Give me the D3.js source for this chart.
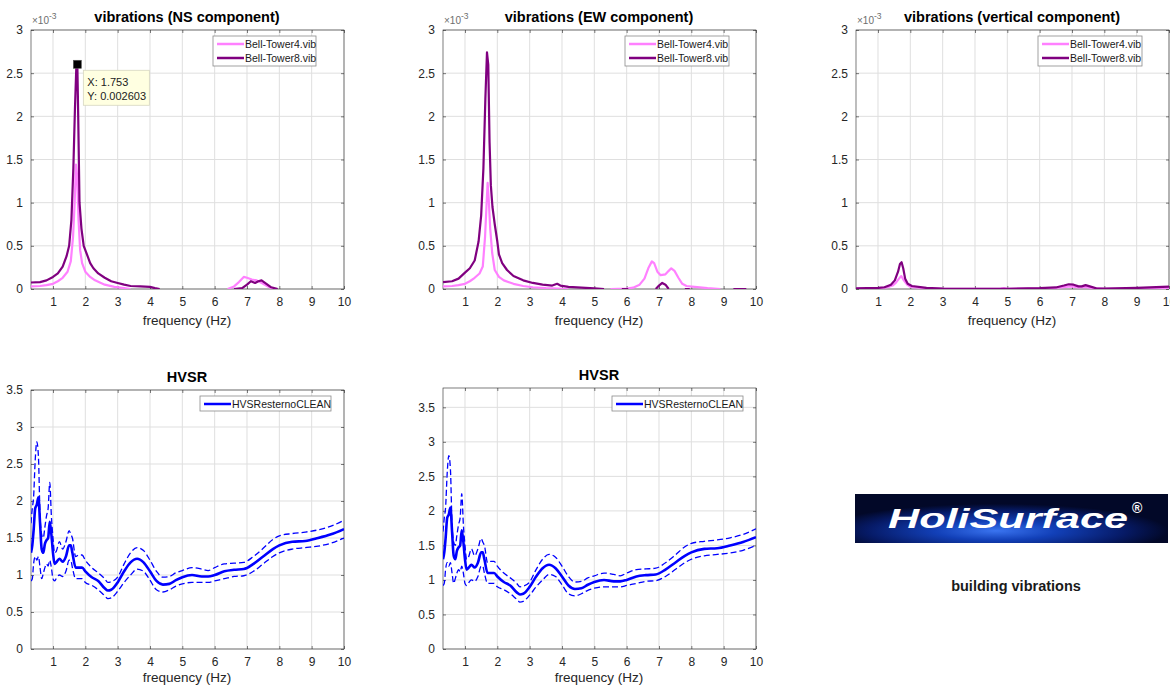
<!DOCTYPE html>
<html>
<head>
<meta charset="utf-8">
<title>building vibrations</title>
<script src="https://d3js.org/d3.v7.min.js"></script>
<style>
  body { margin: 0; background: #fff; }
  svg text { font-family: "Liberation Sans", Arial, sans-serif; }
  .tick text { fill: #262626; font-size: 12px; }
</style>
</head>
<body>
<script>
// spectra, amplitude in units of 1e-3, [frequency Hz, amplitude]; null = gap
var nsTower4 = [[0.32,0.03],[0.6,0.035],[0.8,0.045],[1.0,0.06],[1.15,0.09],[1.3,0.13],[1.45,0.2],[1.55,0.32],[1.62,0.6],[1.67,1.0],[1.71,1.44],[1.75,1.3],[1.79,0.8],[1.84,0.45],[1.9,0.3],[2.0,0.2],[2.15,0.14],[2.3,0.1],[2.6,0.05],[2.9,0.025],[3.2,0.01],[3.4,0.0],
  [3.5,null],[6.4,0.0],[6.6,0.03],[6.75,0.08],[6.9,0.14],[7.0,0.13],[7.15,0.11],[7.3,0.1],[7.5,0.06],[7.65,0.03],[7.8,0.0]];
var nsTower8 = [[0.32,0.075],[0.6,0.08],[0.8,0.1],[1.0,0.14],[1.15,0.18],[1.3,0.26],[1.42,0.38],[1.5,0.5],[1.57,0.8],[1.63,1.4],[1.68,2.1],[1.72,2.55],[1.753,2.603],[1.78,2.0],[1.82,1.0],[1.88,0.7],[1.95,0.5],[2.05,0.4],[2.15,0.3],[2.25,0.24],[2.4,0.18],[2.6,0.13],[2.8,0.09],[3.0,0.07],[3.2,0.05],[3.4,0.035],[3.7,0.03],[4.0,0.025],[4.15,0.01],[4.3,0.0],
  [4.4,null],[6.6,0.0],[6.85,0.01],[7.0,0.05],[7.12,0.09],[7.25,0.07],[7.35,0.09],[7.45,0.1],[7.6,0.06],[7.75,0.02],[7.95,0.0]];

var ewTower4 = [[0.32,0.03],[0.6,0.035],[0.8,0.045],[1.0,0.06],[1.15,0.09],[1.3,0.13],[1.45,0.18],[1.55,0.26],[1.62,0.6],[1.67,1.0],[1.7,1.23],[1.74,1.0],[1.78,0.7],[1.84,0.42],[1.92,0.22],[2.05,0.14],[2.2,0.1],[2.5,0.06],[2.8,0.035],[3.1,0.02],[3.5,0.01],[4.2,0.0],
  [4.6,null],[5.5,0.0],[6.0,0.005],[6.2,0.015],[6.4,0.05],[6.55,0.12],[6.68,0.25],[6.78,0.32],[6.85,0.3],[6.95,0.2],[7.05,0.16],[7.2,0.17],[7.3,0.21],[7.38,0.24],[7.48,0.21],[7.6,0.13],[7.72,0.06],[7.85,0.035],[8.1,0.025],[8.5,0.01],[8.9,0.0]];
var ewTower8 = [[0.32,0.08],[0.6,0.09],[0.8,0.12],[1.0,0.19],[1.15,0.24],[1.3,0.33],[1.42,0.55],[1.5,0.85],[1.57,1.4],[1.63,2.2],[1.68,2.74],[1.72,2.6],[1.76,1.7],[1.8,1.2],[1.85,0.95],[1.92,0.75],[2.0,0.55],[2.05,0.4],[2.15,0.3],[2.3,0.22],[2.5,0.15],[2.8,0.1],[3.1,0.07],[3.4,0.05],[3.7,0.04],[3.85,0.06],[3.95,0.04],[4.2,0.025],[4.6,0.015],[5.0,0.008],[5.3,0.0],
  [5.5,null],[5.85,0.0],[6.05,0.0],[6.1,null],[6.9,0.0],[7.0,0.04],[7.1,0.07],[7.2,0.05],[7.3,0.0],[7.4,null],[7.8,0.0],[7.95,0.0],[8.0,null],[9.3,0.0],[9.7,0.0]];

var vtTower4 = [[0.32,0.005],[1.0,0.008],[1.3,0.02],[1.45,0.04],[1.55,0.07],[1.65,0.12],[1.72,0.15],[1.8,0.1],[1.9,0.05],[2.0,0.025],[2.5,0.008],[3.0,0.003],[4.0,0.002],[4.8,0.004],[4.9,0.01],[5.0,0.003],[6.0,0.006],[6.5,0.012],[6.8,0.025],[7.0,0.03],[7.2,0.018],[7.4,0.025],[7.6,0.012],[8.0,0.003],[9.0,0.006],[10.0,0.012]];
var vtTower8 = [[0.32,0.008],[1.0,0.012],[1.2,0.02],[1.4,0.05],[1.52,0.1],[1.62,0.2],[1.68,0.29],[1.73,0.31],[1.78,0.24],[1.84,0.12],[1.92,0.06],[2.05,0.035],[2.5,0.012],[3.0,0.005],[4.0,0.003],[5.0,0.003],[6.0,0.01],[6.5,0.018],[6.75,0.04],[6.9,0.055],[7.05,0.05],[7.2,0.03],[7.3,0.03],[7.42,0.045],[7.55,0.03],[7.75,0.008],[8.0,0.004],[9.0,0.012],[10.0,0.028]];

// H/V spectral ratio, mean and +/- std
var hvFreq  = [0.32,0.36,0.4,0.45,0.5,0.55,0.6,0.65,0.7,0.75,0.8,0.85,0.9,0.95,1.0,1.05,1.1,1.2,1.3,1.4,1.5,1.55,1.6,1.7,1.8,1.9,2.0,2.2,2.4,2.6,2.7,2.8,3.0,3.2,3.4,3.6,3.8,4.0,4.2,4.4,4.6,4.8,5.0,5.3,5.6,5.8,6.0,6.3,6.6,6.9,7.2,7.5,7.8,8.0,8.4,8.8,9.2,9.6,10.0];
var hvMean  = [1.3,1.4,1.6,1.9,1.95,2.05,1.7,1.35,1.3,1.42,1.47,1.5,1.72,1.55,1.3,1.15,1.17,1.22,1.18,1.25,1.4,1.4,1.3,1.1,1.1,1.1,1.05,0.97,0.92,0.82,0.79,0.8,0.9,1.05,1.17,1.22,1.17,1.05,0.92,0.87,0.88,0.93,0.97,1.0,0.98,0.98,1.0,1.05,1.07,1.08,1.15,1.25,1.35,1.4,1.45,1.46,1.5,1.55,1.62];
var hvUpper = [1.7,1.9,2.05,2.55,2.8,2.6,1.8,1.55,1.5,1.65,1.8,1.9,2.25,1.8,1.5,1.3,1.32,1.45,1.35,1.45,1.6,1.55,1.5,1.25,1.27,1.27,1.2,1.1,1.03,0.95,0.9,0.91,0.97,1.15,1.3,1.37,1.33,1.2,1.05,0.97,0.98,1.03,1.06,1.1,1.08,1.06,1.1,1.15,1.16,1.17,1.25,1.36,1.48,1.53,1.56,1.58,1.61,1.66,1.74];
var hvLower = [0.92,0.95,1.15,1.25,1.2,1.25,1.1,0.95,1.02,1.1,1.15,1.12,1.2,1.1,0.95,0.92,0.95,1.0,0.98,1.05,1.2,1.2,1.1,0.95,0.95,0.95,0.9,0.86,0.8,0.72,0.68,0.69,0.78,0.9,1.0,1.08,1.05,0.93,0.8,0.77,0.8,0.85,0.88,0.9,0.9,0.9,0.92,0.95,0.98,0.99,1.05,1.15,1.25,1.3,1.35,1.37,1.39,1.43,1.5];

var xTicks = [1,2,3,4,5,6,7,8,9,10];
var vibTicks = [0,0.5,1,1.5,2,2.5,3];
var hvTicks = [0,0.5,1,1.5,2,2.5,3,3.5];
var vibNames = ["Bell-Tower4.vib", "Bell-Tower8.vib"];
var hvName = "HVSResternoCLEAN";
var tipX = 1.753, tipY = 2.603;

var colT4 = "#ff80ff", colT8 = "#800080", colHV = "#0000ff";
var axisCol = "#262626";

var svg = d3.select("body").append("svg")
    .attr("width", 1170).attr("height", 686);

function panel(p) {
    var x = d3.scaleLinear().domain([0.32, 10]).range([p.left, p.left + 313]);
    var y = d3.scaleLinear().domain(p.ydom).range([p.bottom, p.top]);
    var g = svg.append("g");
    var clipId = "clip" + p.id;
    svg.append("clipPath").attr("id", clipId).append("rect")
        .attr("x", p.left).attr("y", p.top).attr("width", 313).attr("height", p.bottom - p.top);

    // grid
    g.selectAll(".gx").data(xTicks).enter().append("line")
        .attr("x1", d => x(d)).attr("x2", d => x(d))
        .attr("y1", p.top).attr("y2", p.bottom)
        .attr("stroke", "#dfdfdf").attr("stroke-width", 1);
    g.selectAll(".gy").data(p.yticks).enter().append("line")
        .attr("y1", d => y(d)).attr("y2", d => y(d))
        .attr("x1", p.left).attr("x2", p.left + 313)
        .attr("stroke", "#dfdfdf").attr("stroke-width", 1);

    // axes
    var bottomAx = g.append("g").attr("transform", "translate(0," + p.bottom + ")")
        .call(d3.axisBottom(x).tickValues(xTicks).tickSize(-3).tickPadding(8).tickFormat(d3.format("d")));
    var topAx = g.append("g").attr("transform", "translate(0," + p.top + ")")
        .call(d3.axisTop(x).tickValues(xTicks).tickSize(-3).tickFormat(""));
    var leftAx = g.append("g").attr("transform", "translate(" + p.left + ",0)")
        .call(d3.axisLeft(y).tickValues(p.yticks).tickSize(-3).tickPadding(8).tickFormat(d => d));
    var rightAx = g.append("g").attr("transform", "translate(" + (p.left + 313) + ",0)")
        .call(d3.axisRight(y).tickValues(p.yticks).tickSize(-3).tickFormat(""));
    [bottomAx, topAx, leftAx, rightAx].forEach(function(a) {
        a.select(".domain").remove();
        a.selectAll(".tick line").attr("stroke", axisCol).attr("stroke-width", 0.6);
    });
    g.append("rect").attr("x", p.left).attr("y", p.top)
        .attr("width", 313).attr("height", p.bottom - p.top)
        .attr("fill", "none").attr("stroke", axisCol).attr("stroke-width", 0.6);

    // data lines
    var lines = svg.append("g").attr("clip-path", "url(#" + clipId + ")");
    p.series.forEach(function(s) {
        var line = d3.line()
            .defined(d => d[1] !== null)
            .x(d => x(d[0])).y(d => y(d[1]))
            .curve(s.curve || d3.curveLinear);
        lines.append("path").datum(s.data)
            .attr("d", line)
            .attr("fill", "none")
            .attr("stroke", s.color)
            .attr("stroke-width", s.width)
            .attr("stroke-dasharray", s.dash || null)
            .attr("stroke-linejoin", "round");
    });

    // titles
    svg.append("text").attr("x", p.left + 156).attr("y", p.top - 8)
        .attr("text-anchor", "middle").attr("font-size", 14.5).attr("font-weight", "bold")
        .text(p.title);
    svg.append("text").attr("x", p.left + 156).attr("y", Math.min(p.bottom + 36, 682))
        .attr("text-anchor", "middle").attr("font-size", 13.5).attr("fill", axisCol)
        .text("frequency (Hz)");

    if (p.exp) {
        var t = svg.append("text").attr("x", p.left + 1).attr("y", p.top - 6)
            .attr("font-size", 10).attr("fill", "#6e6e6e");
        t.append("tspan").text("\u00d710");
        t.append("tspan").attr("dy", -5).attr("font-size", 8.5).text("-3");
    }

    // legend
    var lg = svg.append("g");
    lg.append("rect").attr("x", p.legend.x).attr("y", p.legend.y)
        .attr("width", p.legend.w).attr("height", p.legend.h)
        .attr("fill", "#fff").attr("stroke", "#8a8a8a").attr("stroke-width", 0.8);
    p.legend.items.forEach(function(it, i) {
        var yy = p.legend.y + 8 + i * 14;
        lg.append("line").attr("x1", p.legend.x + 4).attr("x2", p.legend.x + 31)
            .attr("y1", yy).attr("y2", yy)
            .attr("stroke", it.color).attr("stroke-width", 2.5);
        lg.append("text").attr("x", p.legend.x + 32).attr("y", yy + 3.8)
            .attr("font-size", 10.5).attr("fill", "#1a1a1a").text(it.name);
    });
    return {x: x, y: y};
}

var legVib = [{name: vibNames[0], color: colT4}, {name: vibNames[1], color: colT8}];
var legHV = [{name: hvName, color: colHV}];

function hvSeries() {
    var mean = hvFreq.map((f, i) => [f, hvMean[i]]);
    var up = hvFreq.map((f, i) => [f, hvUpper[i]]);
    var lo = hvFreq.map((f, i) => [f, hvLower[i]]);
    return [
        {data: up, color: colHV, width: 1.3, dash: "6,3", curve: d3.curveMonotoneX},
        {data: lo, color: colHV, width: 1.3, dash: "6,3", curve: d3.curveMonotoneX},
        {data: mean, color: colHV, width: 2.6, curve: d3.curveMonotoneX}
    ];
}

var ns = panel({id: 1, left: 31, top: 30, bottom: 289, ydom: [0, 3], yticks: vibTicks, exp: true,
    title: "vibrations (NS component)",
    series: [{data: nsTower4, color: colT4, width: 2.2}, {data: nsTower8, color: colT8, width: 2.2}],
    legend: {x: 213, y: 36, w: 103, h: 30, items: legVib}});

panel({id: 2, left: 443, top: 30, bottom: 289, ydom: [0, 3], yticks: vibTicks, exp: true,
    title: "vibrations (EW component)",
    series: [{data: ewTower4, color: colT4, width: 2.2}, {data: ewTower8, color: colT8, width: 2.2}],
    legend: {x: 625, y: 36, w: 104, h: 30, items: legVib}});

panel({id: 3, left: 856, top: 30, bottom: 289, ydom: [0, 3], yticks: vibTicks, exp: true,
    title: "vibrations (vertical component)",
    series: [{data: vtTower4, color: colT4, width: 2.2}, {data: vtTower8, color: colT8, width: 2.2}],
    legend: {x: 1038, y: 36, w: 104, h: 30, items: legVib}});

panel({id: 4, left: 31, top: 390, bottom: 649, ydom: [0, 3.5], yticks: hvTicks,
    title: "HVSR", series: hvSeries(),
    legend: {x: 200, y: 396, w: 131, h: 15, items: legHV}});

panel({id: 5, left: 443, top: 388, bottom: 649, ydom: [0, 3.78], yticks: hvTicks,
    title: "HVSR", series: hvSeries(),
    legend: {x: 612, y: 396, w: 131, h: 15, items: legHV}});

// data tip on NS peak
var tx = ns.x(tipX), ty = ns.y(tipY);
svg.append("rect").attr("x", tx - 4).attr("y", ty - 4).attr("width", 8).attr("height", 8)
    .attr("fill", "#000").attr("stroke", "#555").attr("stroke-width", 0.6);
svg.append("rect").attr("x", tx + 6).attr("y", ty + 6).attr("width", 66).attr("height", 35)
    .attr("fill", "#ffffe1").attr("stroke", "#d6d6c0").attr("stroke-width", 0.8);
svg.append("text").attr("x", tx + 10).attr("y", ty + 22).attr("font-size", 11).attr("fill", "#222")
    .text("X: " + tipX);
svg.append("text").attr("x", tx + 10).attr("y", ty + 36).attr("font-size", 11).attr("fill", "#222")
    .text("Y: " + (tipY / 1000).toFixed(6));

// logo
var defs = svg.append("defs");
var grad = defs.append("radialGradient").attr("id", "glow")
    .attr("cx", "0.45").attr("cy", "0.75").attr("r", "0.55");
grad.append("stop").attr("offset", "0%").attr("stop-color", "#3a74f0");
grad.append("stop").attr("offset", "35%").attr("stop-color", "#1240b8");
grad.append("stop").attr("offset", "75%").attr("stop-color", "#061a66");
grad.append("stop").attr("offset", "100%").attr("stop-color", "#020828");
svg.append("rect").attr("x", 855).attr("y", 494).attr("width", 313).attr("height", 49)
    .attr("fill", "url(#glow)");
svg.append("text").attr("x", 888).attr("y", 528).attr("font-size", 28)
    .attr("font-weight", "bold").attr("font-style", "italic").attr("fill", "#fff")
    .attr("textLength", 240).attr("lengthAdjust", "spacingAndGlyphs")
    .text("HoliSurface");
svg.append("text").attr("x", 1132).attr("y", 513).attr("font-size", 14)
    .attr("font-weight", "bold").attr("fill", "#fff").text("\u00ae");

svg.append("text").attr("x", 1016).attr("y", 591).attr("text-anchor", "middle")
    .attr("font-size", 14.5).attr("font-weight", "bold").attr("fill", "#1a1a1a")
    .text("building vibrations");
</script>
</body>
</html>
